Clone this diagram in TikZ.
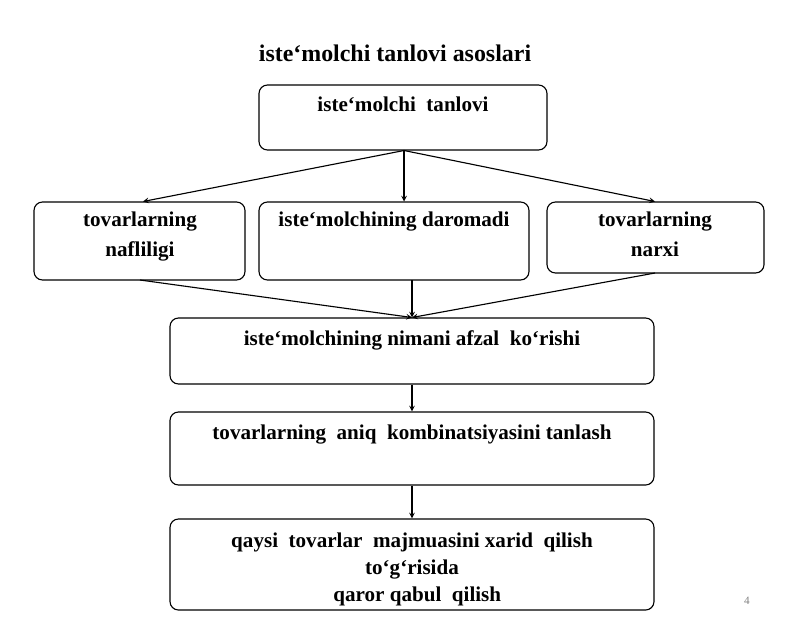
\documentclass[tikz,border=0pt]{standalone}
\usepackage{fontspec}
\setmainfont{Liberation Serif}
\usetikzlibrary{positioning}
\newcommand\bq{\symbol{96}}
\tikzset{
  box/.style={draw, thick, rounded corners=6pt, inner sep=0pt},
  lbl/.style={font=\fontsize{15}{18}\selectfont\bfseries, align=center, anchor=north, inner sep=0pt},
  arr/.style={thick,-stealth}
}
\begin{document}
\begin{tikzpicture}[x=0.025cm,y=-0.025cm]
\useasboundingbox (0,0) rectangle (800,633);

\node[font=\fontsize{17}{20}\selectfont\bfseries] (title) at (395,53) {iste\bq molchi tanlovi asoslari};

% boxes
\node[box, minimum width=288*0.025cm, minimum height=65*0.025cm] (tanlov) at (403,117.5) {};
\node[box, minimum width=211*0.025cm, minimum height=78*0.025cm] (naf) at (139.5,241) {};
\node[box, minimum width=270*0.025cm, minimum height=78*0.025cm] (dar) at (394,241) {};
\node[box, minimum width=217*0.025cm, minimum height=71*0.025cm] (narx) at (655.5,237.5) {};
\node[box, minimum width=484*0.025cm, minimum height=66*0.025cm] (afzal) at (412,351) {};
\node[box, minimum width=484*0.025cm, minimum height=73*0.025cm] (komb) at (412,448.5) {};
\node[box, minimum width=484*0.025cm, minimum height=91*0.025cm] (qaror) at (412,564.5) {};

% texts
\node[lbl] at (403,97) {iste\bq molchi\ \ tanlovi};
\node[lbl] at (140,212) {tovarlarning\\[3pt]nafliligi};
\node[lbl] at (394,212) {iste\bq molchining daromadi};
\node[lbl] at (655,212) {tovarlarning\\[3pt]narxi};
\node[lbl] at (412,330) {iste\bq molchining nimani afzal\ \ ko‘rishi};
\node[lbl] at (412,425) {tovarlarning\ \ aniq\ \ kombinatsiyasini tanlash};
\node[lbl] at (412,533) {qaysi\ \ tovarlar\ \ majmuasini xarid\ \ qilish\\[1pt]to‘g‘risida\\[1pt]\ \ qaror qabul\ \ qilish};
\node[text=gray, font=\footnotesize] (pg) at (747,601) {4};

% connectors
\coordinate (top) at (404,150.5);
\coordinate (mid) at (412,317.5);
\draw[arr] (top) -- (143,201.5);
\draw[arr] (top) -- (404,201.5);
\draw[arr] (top) -- (655,201.5);
\draw[arr] (140,280) -- (mid);
\draw[arr] (412,280) -- (mid);
\draw[arr] (655,273) -- (mid);
\draw[arr] (afzal.south) -- (komb.north);
\draw[arr] (komb.south) -- (qaror.north);
\end{tikzpicture}
\end{document}
